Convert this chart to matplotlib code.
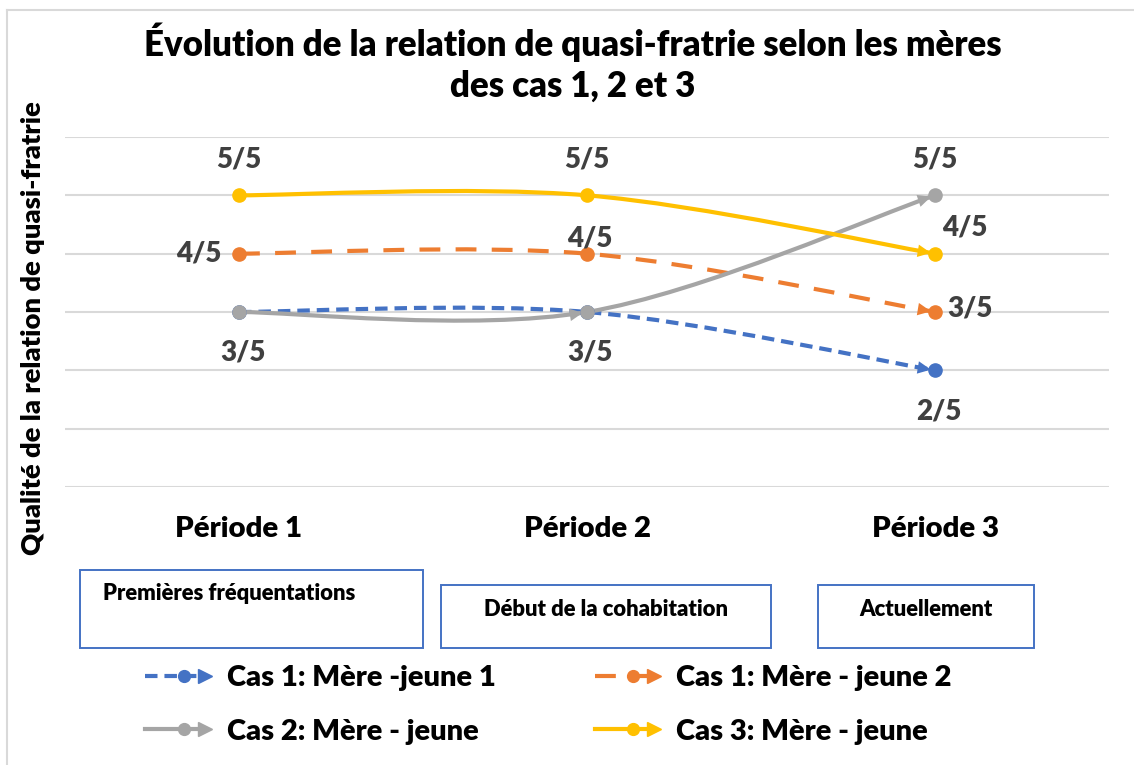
import numpy as np
import matplotlib
matplotlib.use("Agg")
import matplotlib.pyplot as plt
from matplotlib.path import Path
from matplotlib.patches import PathPatch, Rectangle
from matplotlib.lines import Line2D
from matplotlib.legend_handler import HandlerBase

plt.rcParams['font.family'] = ['Lato', 'DejaVu Sans']
plt.rcParams['lines.scale_dashes'] = False
WEIGHT = 'heavy'

# Data (scores out of 5)
periods = ['Période 1', 'Période 2', 'Période 3']
period_notes = ['Premières fréquentations', 'Début de la cohabitation', 'Actuellement']
series_names = ['Cas 1: Mère -jeune 1', 'Cas 1: Mère - jeune 2',
                'Cas 2: Mère - jeune', 'Cas 3: Mère - jeune']
cas1_jeune1 = [3, 3, 2]
cas1_jeune2 = [4, 4, 3]
cas2_jeune = [3, 3, 5]
cas3_jeune = [5, 5, 4]
max_score = 5

series = [cas1_jeune1, cas1_jeune2, cas2_jeune, cas3_jeune]
colors = ['#4472C4', '#ED7D31', '#A5A5A5', '#FFC000']
styles = [(0, (9, 5)), (0, (15, 11)), '-', '-']
arrow_at = [[2], [2], [1, 2], [2]]

# which data labels are shown, offset in pixels (dx, dy)
label_spots = [
    (0, 0, 4, -40), (0, 1, 3, -40), (0, 2, 4, -41),
    (1, 0, -40, 0), (1, 1, 3, 15), (1, 2, 35, 4),
    (2, 2, 0, 36),
    (3, 0, 0, 36), (3, 1, 0, 36), (3, 2, 30, 26),
]


def smooth_path(xs, ys):
    # Excel-like smoothed line (Catmull-Rom as cubic Bezier)
    pts = np.column_stack([xs, ys]).astype(float)
    n = len(pts)
    verts = [pts[0]]
    codes = [Path.MOVETO]
    for i in range(n - 1):
        p_prev = pts[max(i - 1, 0)]
        p_next2 = pts[min(i + 2, n - 1)]
        c1 = pts[i] + (pts[i + 1] - p_prev) / 6
        c2 = pts[i + 1] - (p_next2 - pts[i]) / 6
        verts += [c1, c2, pts[i + 1]]
        codes += [Path.CURVE4] * 3
    return Path(verts, codes)


class ArrowLineHandler(HandlerBase):
    def create_artists(self, legend, orig, xdescent, ydescent, width,
                       height, fontsize, trans):
        y = height / 2 - ydescent
        x0 = -xdescent
        line = Line2D([x0, x0 + 0.8 * width], [y, y])
        line.update_from(orig)
        line.set_marker('')
        dot = Line2D([x0 + 0.55 * width], [y], marker='o', markersize=8.5,
                     color=orig.get_color(), linestyle='none')
        tri = Line2D([x0 + 0.85 * width], [y], marker='>', markersize=10,
                     color=orig.get_color(), linestyle='none')
        for a in (line, dot, tri):
            a.set_transform(trans)
        return [line, dot, tri]


W, H = 1134, 765
fig = plt.figure(figsize=(W / 100, H / 100), dpi=100)
ax = fig.add_axes([65 / W, 1 - 487 / H, 1044 / W, 350 / H])

x = np.arange(len(periods))
for k, vals in enumerate(series):
    c = colors[k]
    patch = PathPatch(smooth_path(x, vals), fill=False, edgecolor=c, lw=3.0,
                      linestyle=styles[k], capstyle='butt', zorder=3)
    ax.add_patch(patch)
    for i in arrow_at[k]:
        prev = max(i - 1, 0)
        nxt = min(i + 1, len(vals) - 1)
        tx = x[nxt] - x[prev]
        ty = vals[nxt] - vals[prev]
        ax.annotate('', xy=(x[i], vals[i]),
                    xytext=(x[i] - 0.08, vals[i] - 0.08 * ty / tx),
                    arrowprops=dict(arrowstyle='-|>,head_length=0.95,head_width=0.45',
                                    mutation_scale=10, color=c, lw=0,
                                    shrinkA=0, shrinkB=3),
                    zorder=4)
    ax.plot(x, vals, 'o', ms=9.5, color=c, zorder=5)

for k, i, dx, dy in label_spots:
    v = series[k][i]
    ax.annotate(f'{v}/{max_score}', (x[i], v), xytext=(dx * 0.72, dy * 0.72),
                textcoords='offset points', ha='center', va='center',
                fontsize=20, fontweight=WEIGHT, color='#404040', zorder=6)

ax.set_xlim(-0.5, len(periods) - 0.5)
ax.set_ylim(0, 6)
ax.set_yticks(range(0, 7))
ax.set_yticklabels([])
ax.grid(axis='y', color='#D9D9D9', lw=1.5)
ax.set_axisbelow(True)
ax.set_xticks(x)
ax.set_xticklabels(periods, fontsize=21.2, fontweight=WEIGHT)
ax.tick_params(length=0, pad=21)
for s in ax.spines.values():
    s.set_visible(False)

ax.set_ylabel('Qualité de la relation de quasi-fratrie', fontsize=19.7,
              fontweight=WEIGHT)
ax.yaxis.set_label_coords(-0.019, 0.455)

fig.suptitle('Évolution de la relation de quasi-fratrie selon les mères\ndes cas 1, 2 et 3',
             x=573 / W, y=1 - 22 / H, va='top', fontsize=25, fontweight=WEIGHT,
             linespacing=1.3)

# outer chart frame (left and top edges only visible)
fig.add_artist(Line2D([7 / W, 7 / W], [0, 1 - 10 / H], color='#D9D9D9', lw=1.5))
fig.add_artist(Line2D([7 / W, 1], [1 - 10 / H, 1 - 10 / H], color='#D9D9D9', lw=1.5))

# text boxes under each period
boxes = [(80, 570, 423, 648), (441, 585, 771, 648), (818, 585, 1034, 648)]
for (x0, y0, x1, y1), note in zip(boxes, period_notes):
    fig.add_artist(Rectangle((x0 / W, 1 - y1 / H), (x1 - x0) / W, (y1 - y0) / H,
                             fill=False, edgecolor='#4472C4', lw=1.4))
for note, (tx, ty, ha) in zip(period_notes, [(103, 594, 'left'), (606, 610, 'center'),
                                             (926, 610, 'center')]):
    fig.text(tx / W, 1 - ty / H, note, ha=ha, va='center', fontsize=15.8,
             fontweight=WEIGHT)

handles = [Line2D([], [], color=colors[k], lw=3.0, linestyle=styles[k])
           for k in range(len(series))]
order = [0, 2, 1, 3]
fig.legend([handles[k] for k in order], [series_names[k] for k in order],
           handler_map={Line2D: ArrowLineHandler()},
           loc='center left', bbox_to_anchor=(145 / W, 1 - 705 / H),
           ncol=2, frameon=False, borderpad=0, borderaxespad=0,
           handlelength=2.4, handletextpad=0.4, columnspacing=3.4,
           labelspacing=0.93,
           prop={'size': 21, 'weight': WEIGHT})

fig.savefig('out.png', dpi=100)
